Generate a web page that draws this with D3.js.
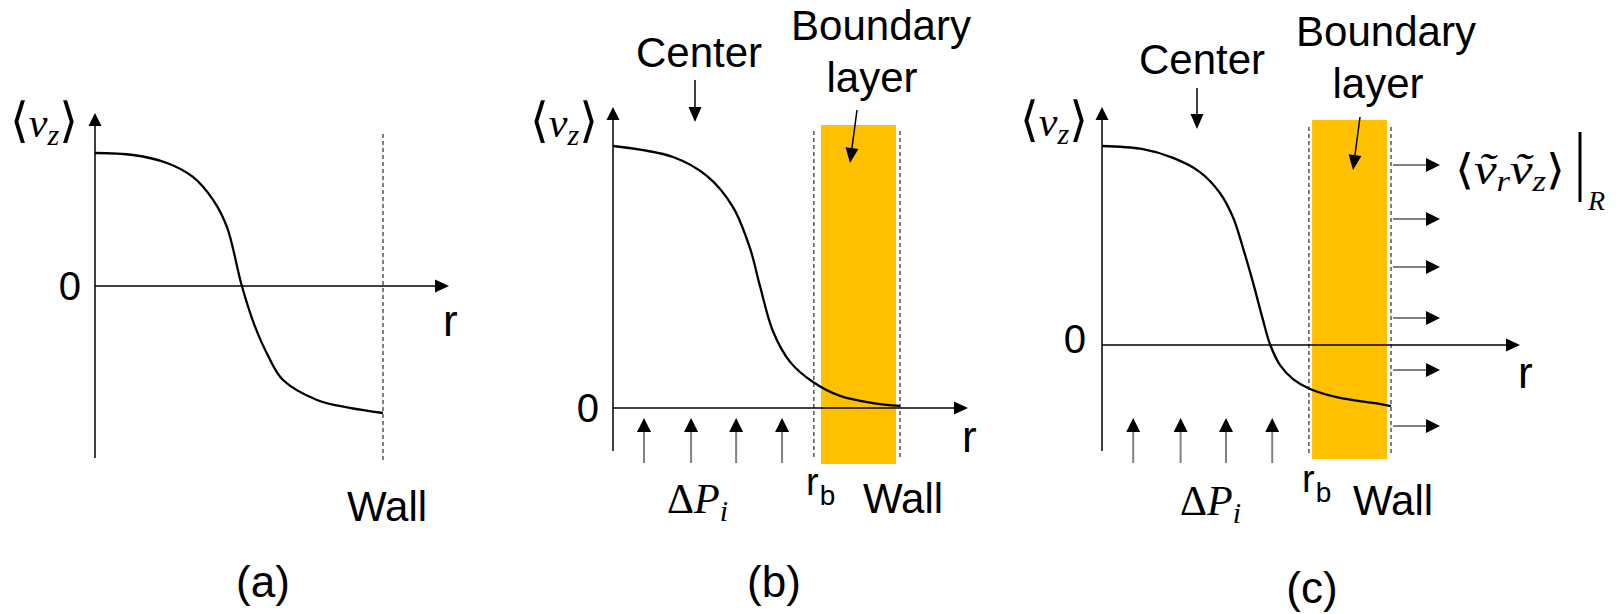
<!DOCTYPE html>
<html><head><meta charset="utf-8">
<script src="https://cdn.jsdelivr.net/npm/d3@7"></script>
<style>body{margin:0;background:#fff}svg{display:block}</style>
</head><body>
<svg id="chart" width="1616" height="614"></svg>
<script>
// ---------- data (r normalised to wall = 1, <v_z> normalised to centre value = 1) ----------
const rA = [0,0.132,0.25,0.34,0.41,0.458,0.51,0.553,0.60,0.653,0.771,0.885,1.0];
const vA = [1,0.985,0.925,0.82,0.647,0.444,0,-0.29,-0.52,-0.707,-0.857,-0.917,-0.955];
const rB = [0,0.209,0.328,0.418,0.477,0.512,0.557,0.617,0.697,0.791,0.906,1];
const vB = [1,0.958,0.885,0.767,0.611,0.466,0.294,0.176,0.099,0.046,0.019,0.008];
const rC = [0,0.138,0.246,0.339,0.408,0.453,0.488,0.522,0.557,0.581,0.616,0.661,0.720,0.824,0.938,1];
const vC = [1,0.985,0.940,0.869,0.764,0.643,0.487,0.317,0.126,0.005,-0.101,-0.171,-0.221,-0.266,-0.291,-0.307];
const pressureR = [0.108,0.272,0.429,0.589];          // ΔP_i arrows
const boundaryB = {rb:0.700, from:0.725, to:0.986};    // panel (b) layer
const boundaryC = {rb:0.716, from:0.727, to:0.986};    // panel (c) layer
const fluxV = [0.905,0.633,0.392,0.136,-0.126,-0.407]; // <v_r v_z>|_R arrows in panel (c)
const panelLabels = ["(a)","(b)","(c)"];

// ---------- layout ----------
const panels = [
  {x0:95,  xw:383,  y0:286, yTop:153, axTop:113, axBot:458, xTip:449},
  {x0:613, xw:900,  y0:408, yTop:146, axTop:107, axBot:451, xTip:968},
  {x0:1102,xw:1391, y0:345, yTop:146, axTop:107, axBot:451, xTip:1520}
];
panels.forEach(p=>{
  p.x = d3.scaleLinear().domain([0,1]).range([p.x0,p.xw]);
  p.y = d3.scaleLinear().domain([0,1]).range([p.y0,p.yTop]);
});
const svg = d3.select("#chart");
const SANS = "'Liberation Sans', Arial, sans-serif";
const SERIF = "'Liberation Serif', 'DejaVu Serif', serif";
const BRK = "'DejaVu Sans', sans-serif";

function arrow(x1,y1,x2,y2,o={}){
  const col=o.color||"#000", w=o.width||1.5, hl=o.hl||13, hw=o.hw||13;
  const dx=x2-x1, dy=y2-y1, L=Math.hypot(dx,dy), ux=dx/L, uy=dy/L;
  const bx=x2-ux*hl, by=y2-uy*hl;
  svg.append("line").attr("x1",x1).attr("y1",y1).attr("x2",bx).attr("y2",by)
    .attr("stroke",col).attr("stroke-width",w);
  svg.append("path").attr("d",`M${x2},${y2}L${bx-uy*hw/2},${by+ux*hw/2}L${bx+uy*hw/2},${by-ux*hw/2}Z`)
    .attr("fill","#000");
}
function dashed(x,y1,y2){
  svg.append("line").attr("x1",x).attr("x2",x).attr("y1",y1).attr("y2",y2)
    .attr("stroke","#000").attr("stroke-width",1).attr("stroke-dasharray","4,3");
}
function sans(t,x,y,size,anchor){
  return svg.append("text").attr("x",x).attr("y",y).attr("font-family",SANS)
    .attr("font-size",size).attr("text-anchor",anchor||"start").attr("fill","#000").text(t);
}
function vzLabel(xStart,base){
  const t = svg.append("text").attr("x",xStart).attr("y",base)
    .attr("font-family",SERIF).attr("font-size",42).attr("fill","#000")
    .attr("textLength",68).attr("lengthAdjust","spacingAndGlyphs");
  t.append("tspan").attr("font-family",BRK).attr("font-size",48).text("\u27E8");
  t.append("tspan").attr("font-style","italic").text("v");
  t.append("tspan").attr("font-style","italic").attr("font-size",30).attr("dy",8).text("z");
  t.append("tspan").attr("font-family",BRK).attr("font-size",48).attr("dy",-8).text("\u27E9");
}
function dpLabel(x,base){
  const t = svg.append("text").attr("x",x).attr("y",base).attr("font-family",SERIF)
    .attr("font-size",42).attr("fill","#000");
  t.append("tspan").text("\u0394");
  t.append("tspan").attr("font-style","italic").text("P");
  t.append("tspan").attr("font-style","italic").attr("font-size",30).attr("dy",8).text("i");
}
function rbLabel(x,base){
  const t = svg.append("text").attr("x",x).attr("y",base).attr("font-family",SANS).attr("fill","#000");
  t.append("tspan").attr("font-size",38).text("r");
  t.append("tspan").attr("font-size",28).attr("dy",10).attr("dx",1).text("b");
}

const line = d3.line().curve(d3.curveCatmullRom.alpha(0.5));
const curves = [[rA,vA],[rB,vB],[rC,vC]];
const bounds = [null, boundaryB, boundaryC];

panels.forEach((p,i)=>{
  const b = bounds[i];
  if(b){
    svg.append("rect").attr("x",p.x(b.from)).attr("width",p.x(b.to)-p.x(b.from))
      .attr("y",i===1?125:120).attr("height",339).attr("fill","#FFC000");
    dashed(p.x(b.rb), i===1?131:127, i===1?458:453);
  }
  dashed(p.x(1), i===0?134:(i===1?131:127), i===0?460:(i===1?458:453));
  // axes
  svg.append("line").attr("x1",p.x0).attr("x2",p.x0).attr("y1",p.axBot).attr("y2",p.axTop+12)
    .attr("stroke","#000").attr("stroke-width",1.5);
  svg.append("path").attr("d",`M${p.x0},${p.axTop}L${p.x0-6.5},${p.axTop+13}L${p.x0+6.5},${p.axTop+13}Z`).attr("fill","#000");
  svg.append("line").attr("x1",p.x0).attr("x2",p.xTip-12).attr("y1",p.y(0)).attr("y2",p.y(0))
    .attr("stroke","#000").attr("stroke-width",1.5);
  svg.append("path").attr("d",`M${p.xTip},${p.y(0)}L${p.xTip-14},${p.y(0)-6.5}L${p.xTip-14},${p.y(0)+6.5}Z`).attr("fill","#000");
  // velocity profile
  const [rs,vs] = curves[i];
  svg.append("path").attr("d",line(rs.map((r,k)=>[p.x(r),p.y(vs[k])])))
    .attr("fill","none").attr("stroke","#000").attr("stroke-width",2.3);
  if(i>0){
    pressureR.forEach(r=>arrow(p.x(r),463,p.x(r),418,{color:"#808080",width:2,hl:14,hw:14}));
  }
});

// flux arrows panel (c)
const pc = panels[2];
fluxV.forEach(v=>arrow(pc.x(1)+2,pc.y(v),pc.x(1)+49,pc.y(v),{color:"#808080",width:2,hl:14,hw:14}));

// panel (a)
vzLabel(10,137);
sans("0",81,300,40,"end");
sans("r",443,336,44);
sans("Wall",387,521,42,"middle");
// panel (b)
vzLabel(530,137);
sans("0",599,422,40,"end");
sans("r",962,452,44);
sans("Wall",863,513,42);
sans("Center",699,67,42,"middle");
sans("Boundary",881,40,42,"middle");
sans("layer",872,92,42,"middle");
arrow(695,80,695,122,{width:1.5,hl:15,hw:13});
arrow(857,110,850,163,{width:1.5,hl:15,hw:13});
dpLabel(667,513);
rbLabel(806,495);
// panel (c)
vzLabel(1020,136);
sans("0",1086,353,40,"end");
sans("r",1518,388,44);
sans("Wall",1353,515,42);
sans("Center",1202,74,42,"middle");
sans("Boundary",1386,46,42,"middle");
sans("layer",1378,98,42,"middle");
arrow(1197,88,1197,129,{width:1.5,hl:15,hw:13});
arrow(1360,117,1353,170,{width:1.5,hl:15,hw:13});
dpLabel(1180,515);
rbLabel(1302,492);
// stress label
(function(){
  const t = svg.append("text").attr("x",1455).attr("y",184).attr("font-family",SERIF)
    .attr("font-size",44).attr("fill","#000")
    .attr("textLength",110).attr("lengthAdjust","spacingAndGlyphs");
  t.append("tspan").attr("font-family",BRK).attr("font-size",42).text("\u27E8");
  t.append("tspan").attr("font-style","italic").text("\u1E7D");
  t.append("tspan").attr("font-style","italic").attr("font-size",30).attr("dy",7).text("r");
  t.append("tspan").attr("font-style","italic").attr("dy",-7).text("\u1E7D");
  t.append("tspan").attr("font-style","italic").attr("font-size",30).attr("dy",7).text("z");
  t.append("tspan").attr("font-family",BRK).attr("font-size",42).attr("dy",-7).text("\u27E9");
  svg.append("line").attr("x1",1580).attr("x2",1580).attr("y1",132).attr("y2",202)
    .attr("stroke","#000").attr("stroke-width",3);
  svg.append("text").attr("x",1588).attr("y",210).attr("font-family",SERIF)
    .attr("font-style","italic").attr("font-size",28).text("R");
})();
// panel captions
sans(panelLabels[0],263,597,44,"middle");
sans(panelLabels[1],774,597,44,"middle");
sans(panelLabels[2],1312,603,44,"middle");
</script>
</body></html>
